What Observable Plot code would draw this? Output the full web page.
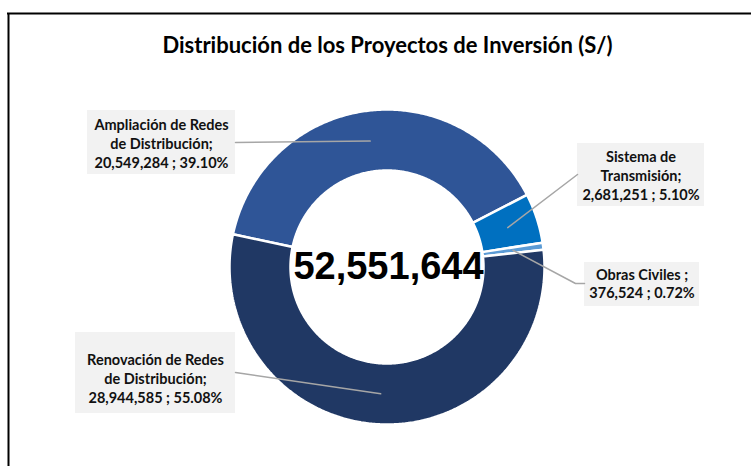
<!DOCTYPE html>
<html>
<head>
<meta charset="utf-8">
<script src="https://cdn.jsdelivr.net/npm/d3@7"></script>
<script src="https://cdn.jsdelivr.net/npm/@observablehq/plot@0.6"></script>
<style>
  html, body { margin: 0; padding: 0; background: #ffffff; }
  #chart svg { display: block; }
</style>
</head>
<body>
<div id="chart"></div>
<script>
// ---------- data ----------
const title = "Distribución de los Proyectos de Inversión (S/)";
const categories = [
  "Ampliación de Redes de Distribución",
  "Sistema de Transmisión",
  "Obras Civiles",
  "Renovación de Redes de Distribución"
];
const values = [20549284, 2681251, 376524, 28944585];
const labelNames = [
  ["Ampliación de Redes", "de Distribución;"],
  ["Sistema de", "Transmisión;"],
  ["Obras Civiles ;"],
  ["Renovación de Redes", "de Distribución;"]
];

// ---------- style / layout ----------
const colors = ["#2F5597", "#0070C0", "#5B9BD5", "#203864"];
const W = 751, H = 466;
const geom = {cx: 386.5, cy: 266.5, R: 157.5, r: 96.5, startDeg: 282};
const boxes = [
  {x1: 87,  x2: 235, y1: 110, y2: 174, tx: 161,   ty: 144, step: 19, link: [[235, 142]]},
  {x1: 577, x2: 704, y1: 143, y2: 206, tx: 640.5, ty: 176, step: 19, link: [[577, 174]]},
  {x1: 584, x2: 699, y1: 262, y2: 306, tx: 641.5, ty: 284, step: 18, link: [[575, 283], [584, 283]]},
  {x1: 75,  x2: 235, y1: 332, y2: 413, tx: 155,   ty: 379, step: 19, link: [[235, 372]]}
];
const labelFont = "Lato, 'Open Sans', sans-serif";

// ---------- derived ----------
const total = d3.sum(values);
const fmt = d3.format(",");
const pct = v => (v / total * 100).toFixed(2) + "%";
const start = geom.startDeg * Math.PI / 180;
const arcs = d3.pie().sort(null).startAngle(start).endAngle(start + 2 * Math.PI)(values);

const px = (rad, a) => geom.cx + rad * Math.sin(a);
const py = (rad, a) => geom.cy - rad * Math.cos(a);

const slices = arcs.map((a, i) => {
  const pts = [];
  const n = Math.max(4, Math.ceil((a.endAngle - a.startAngle) / 0.01));
  for (let k = 0; k <= n; k++) {
    const t = a.startAngle + (a.endAngle - a.startAngle) * k / n;
    pts.push({x: px(geom.R, t), y: py(geom.R, t)});
  }
  for (let k = n; k >= 0; k--) {
    const t = a.startAngle + (a.endAngle - a.startAngle) * k / n;
    pts.push({x: px(geom.r, t), y: py(geom.r, t)});
  }
  pts.push(pts[0]);
  return {category: categories[i], color: colors[i], pts};
});

const leaders = arcs.map((a, i) => {
  const mid = (a.startAngle + a.endAngle) / 2;
  const rm = (geom.R + geom.r) / 2;
  const p0 = {x: px(rm, mid), y: py(rm, mid), i};
  return [p0, ...boxes[i].link.map(([x, y]) => ({x, y, i}))];
}).flat();

const labelLines = values.flatMap((v, i) => {
  const lines = [...labelNames[i], fmt(v) + " ; " + pct(v)];
  const b = boxes[i];
  return lines.map((t, k) => ({
    text: t, x: b.tx, y: b.ty + (k - (lines.length - 1) / 2) * b.step
  }));
});

const chart = Plot.plot({
  width: W, height: H,
  margin: 0,
  x: {domain: [0, W], range: [0, W], axis: null},
  y: {domain: [0, H], range: [0, H], axis: null},
  style: {background: "#ffffff"},
  marks: [
    // frame
    Plot.ruleX([8], {y1: 13, y2: H, stroke: "#000", strokeWidth: 2}),
    Plot.ruleY([13], {x1: 7, x2: W, stroke: "#000", strokeWidth: 2}),
    // title
    Plot.text([title], {x: 387, y: 45, text: d => d, fontSize: 22, fontWeight: "bold",
      fontFamily: labelFont, fill: "#000", lineAnchor: "middle", textAnchor: "middle"}),
    // donut slices
    ...slices.map(s => Plot.line(s.pts, {x: "x", y: "y", fill: s.color, stroke: "#ffffff",
      strokeWidth: 2.5, strokeLinejoin: "miter", curve: "linear"})),
    // label boxes
    Plot.rect(boxes, {x1: "x1", x2: "x2", y1: "y1", y2: "y2", fill: "#F2F2F2"}),
    // leader lines
    Plot.line(leaders, {x: "x", y: "y", z: "i", stroke: "#A6A6A6", strokeWidth: 1.5}),
    // labels, one line each
    Plot.text(labelLines, {x: "x", y: "y", text: "text", fontSize: 14.5, fontWeight: "bold",
      fontFamily: labelFont, fill: "#111", lineAnchor: "middle", textAnchor: "middle"}),
    // center total
    Plot.text([total], {x: geom.cx + 1.5, y: geom.cy, text: d => fmt(d), fontSize: 38, fontWeight: "bold",
      fontFamily: "'Liberation Sans', Arial, sans-serif", fill: "#000", lineAnchor: "middle", textAnchor: "middle"})
  ]
});
document.getElementById("chart").appendChild(chart);
</script>
</body>
</html>
